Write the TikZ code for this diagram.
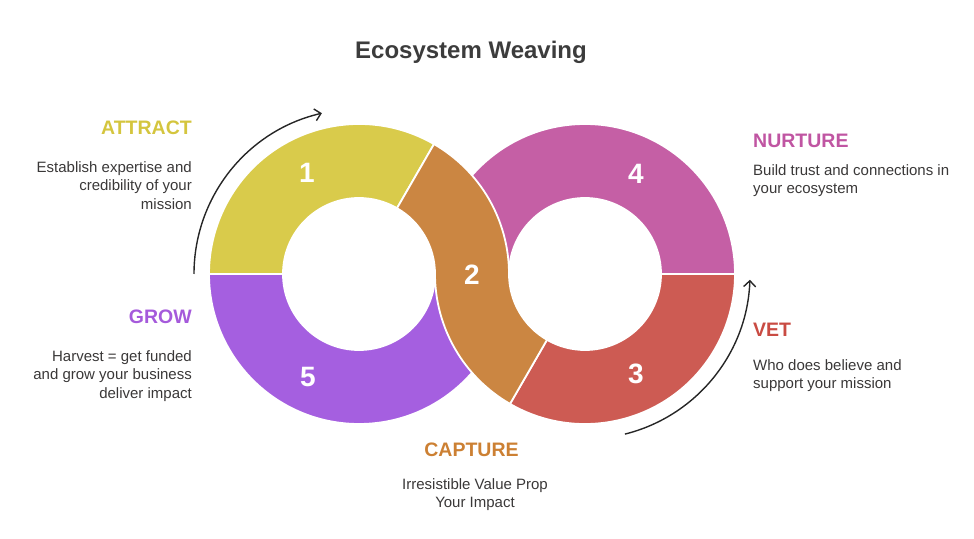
\documentclass[tikz,border=0pt]{standalone}
\usepackage{fontspec}
\setmainfont{Liberation Sans}
\usetikzlibrary{arrows.meta}
\definecolor{cYel}{HTML}{D9CB4B}
\definecolor{cOra}{HTML}{CB8642}
\definecolor{cPnk}{HTML}{C55FA5}
\definecolor{cPur}{HTML}{A55FE0}
\definecolor{cRed}{HTML}{CD5B53}
\definecolor{hYel}{HTML}{D4C53E}
\definecolor{hOra}{HTML}{CC8033}
\definecolor{hPnk}{HTML}{C055A2}
\definecolor{hPur}{HTML}{A55ADB}
\definecolor{hRed}{HTML}{C94B43}
\definecolor{cTitle}{HTML}{3C3C3C}
\definecolor{cText}{HTML}{3A3838}
\begin{document}
\begin{tikzpicture}[x=1pt,y=1pt,
  seg/.style={draw=white,line width=1.8pt,line join=round},
  num/.style={text=white,font=\fontsize{28}{28}\selectfont\bfseries,inner sep=0},
  head/.style={font=\fontsize{19.5}{20}\selectfont\bfseries,inner sep=0},
  desc/.style={font=\fontsize{15}{18.5}\selectfont,text=cText,inner sep=0},
  cyc/.style={draw=black!85,line width=1.4pt,-{Straight Barb[length=6pt,width=12pt]}}]
\useasboundingbox (0,0) rectangle (974,538);
\coordinate (L) at (359,264);
\coordinate (R) at (585,264);
% segments
\path[seg,fill=cYel] ([shift={(60:150)}]L) arc[start angle=60,end angle=180,radius=150]
  -- ([shift={(180:76)}]L) arc[start angle=180,end angle=60,radius=76] -- cycle;
\path[seg,fill=cPur] ([shift={(180:150)}]L) arc[start angle=180,end angle=360,radius=150]
  -- ([shift={(0:76)}]L) arc[start angle=360,end angle=180,radius=76] -- cycle;
\path[seg,fill=cPnk] ([shift={(0:150)}]R) arc[start angle=0,end angle=180,radius=150]
  -- ([shift={(180:76)}]R) arc[start angle=180,end angle=0,radius=76] -- cycle;
\path[seg,fill=cRed] ([shift={(240:150)}]R) arc[start angle=240,end angle=360,radius=150]
  -- ([shift={(0:76)}]R) arc[start angle=360,end angle=240,radius=76] -- cycle;
\path[seg,fill=cOra] ([shift={(60:150)}]L) arc[start angle=60,end angle=0,radius=150]
  arc[start angle=180,end angle=240,radius=76]
  -- ([shift={(240:150)}]R) arc[start angle=240,end angle=180,radius=150]
  arc[start angle=0,end angle=60,radius=76] -- cycle;
% numbers
\node[num] (n1) at (307,365) {1};
\node[num] (n2) at (472,263) {2};
\node[num] (n3) at (636,164) {3};
\node[num] (n4) at (636,364) {4};
\node[num] (n5) at (308,161) {5};
% cycle arrows
\coordinate (a1s) at ([shift={(180:165)}]L);
\draw[cyc] (a1s) arc[start angle=180,end angle=103,radius=165];
\coordinate (a2s) at ([shift={(-76:165)}]R);
\draw[cyc] (a2s) arc[start angle=-76,end angle=-2,radius=165];
% title
\node[font=\fontsize{24}{26}\selectfont\bfseries,text=cTitle] (title) at (471,486) {Ecosystem Weaving};
% labels
\node[head,text=hYel,anchor=base east] (attract) at (192,403) {ATTRACT};
\node[desc,align=right,anchor=north east] (attractd) at (192,376.7) {Establish expertise and\\credibility of your\\mission};
\node[head,text=hPur,anchor=base east] (grow) at (192,214) {GROW};
\node[desc,align=right,anchor=north east] (growd) at (192,187.7) {Harvest = get funded\\and grow your business\\deliver impact};
\node[head,text=hPnk,anchor=base west] (nurture) at (753,390) {NURTURE};
\node[desc,align=left,anchor=north west] (nurtured) at (753,373.7) {Build trust and connections in\\your ecosystem};
\node[head,text=hRed,anchor=base west] (vet) at (753,201) {VET};
\node[desc,align=left,anchor=north west] (vetd) at (753,178.7) {Who does believe and\\support your mission};
\node[head,text=hOra,anchor=base] (capture) at (471.5,81) {CAPTURE};
\node[desc,align=center,anchor=north] (captured) at (475,59.7) {Irresistible Value Prop\\Your Impact};
\end{tikzpicture}
\end{document}
